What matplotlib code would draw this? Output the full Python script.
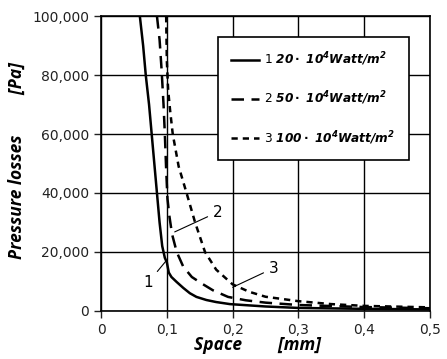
import numpy as np
import matplotlib.pyplot as plt
from matplotlib.ticker import FuncFormatter

# curve data
x1 = [0.059, 0.064, 0.068, 0.073, 0.077, 0.081, 0.085, 0.089, 0.093, 0.097, 0.1,
      0.103, 0.107, 0.115, 0.125, 0.135, 0.145, 0.16, 0.175, 0.196, 0.25, 0.3, 0.4, 0.5]
y1 = [100000, 90000, 80000, 70000, 60000, 50000, 40000, 30000, 22000, 18000, 16500,
      13000, 11500, 9800, 7800, 6000, 4750, 3700, 3000, 2300, 1500, 1000, 700, 500]

x2 = [0.085, 0.089, 0.092, 0.095, 0.097, 0.099, 0.101, 0.104, 0.108, 0.115, 0.125,
      0.138, 0.153, 0.17, 0.193, 0.22, 0.25, 0.3, 0.4, 0.5]
y2 = [100000, 92000, 82000, 70000, 60000, 48000, 38000, 32000, 26000, 20000, 15000,
      11500, 9300, 7000, 4750, 3600, 2800, 2000, 1300, 900]

x3 = [0.099, 0.1, 0.102, 0.105, 0.109, 0.118, 0.13, 0.143, 0.158, 0.175, 0.2,
      0.225, 0.25, 0.3, 0.35, 0.4, 0.5]
y3 = [100000, 85000, 75000, 68000, 60000, 49000, 40000, 30000, 20000, 14000, 9000,
      6500, 4800, 3300, 2300, 1700, 1200]

labels = [r'1 $\mathbfit{20\cdot\ 10^4Watt/m^2}$',
          r'2 $\mathbfit{50\cdot\ 10^4Watt/m^2}$',
          r'3 $\mathbfit{100\cdot\ 10^4Watt/m^2}$']

xticks = [0, 0.1, 0.2, 0.3, 0.4, 0.5]
yticks = [0, 20000, 40000, 60000, 80000, 100000]

plt.rcParams['font.family'] = 'DejaVu Sans'
plt.rcParams['mathtext.fontset'] = 'dejavusans'

fig = plt.figure(figsize=(4.47, 3.59), dpi=100)
ax = fig.add_axes([0.226, 0.134, 0.736, 0.821])

ax.plot(x1, y1, color='black', lw=1.8, ls='-', label=labels[0])
ax.plot(x2, y2, color='black', lw=1.8, ls=(0, (5, 3)), label=labels[1])
ax.plot(x3, y3, color='black', lw=1.8, ls=(0, (2.5, 2)), label=labels[2])

ax.set_xlim(0, 0.5)
ax.set_ylim(0, 100000)
ax.set_xticks(xticks)
ax.set_yticks(yticks)
ax.xaxis.set_major_formatter(FuncFormatter(lambda v, p: '0' if v == 0 else ('%.1f' % v).replace('.', ',')))
ax.yaxis.set_major_formatter(FuncFormatter(lambda v, p: '{:,.0f}'.format(v)))
ax.tick_params(direction='out', length=5, width=1, labelsize=10, colors='#222222')
ax.grid(True, color='black', lw=1)
for s in ax.spines.values():
    s.set_linewidth(1.2)

lfont = {'family': 'Open Sans', 'weight': 'bold', 'style': 'italic', 'size': 12.5}
ax.set_xlabel('Space        [mm]', fontdict=lfont)
ax.set_ylabel('Pressure losses         [Pa]', fontdict=lfont)
ax.xaxis.set_label_coords(0.477, -0.085)
ax.yaxis.set_label_coords(-0.23, 0.51)

# callouts
ax.annotate('1', xy=(0.099, 17000), xytext=(0.064, 8000), fontsize=11,
            arrowprops=dict(arrowstyle='-', color='black', lw=0.8, shrinkA=2, shrinkB=0))
ax.annotate('2', xy=(0.112, 26800), xytext=(0.17, 32000), fontsize=11,
            arrowprops=dict(arrowstyle='-', color='black', lw=0.8, shrinkA=2, shrinkB=0))
ax.annotate('3', xy=(0.2, 8000), xytext=(0.255, 13000), fontsize=11,
            arrowprops=dict(arrowstyle='-', color='black', lw=0.8, shrinkA=2, shrinkB=0))

leg = ax.legend(loc='upper left', bbox_to_anchor=(0.356, 0.929), fancybox=False,
                framealpha=1, edgecolor='black', fontsize=8.7, handlelength=2.3,
                handletextpad=0.4, labelspacing=1.8, borderpad=1.1, borderaxespad=0)
leg.get_frame().set_linewidth(1.2)

fig.savefig('out.png', dpi=100)
